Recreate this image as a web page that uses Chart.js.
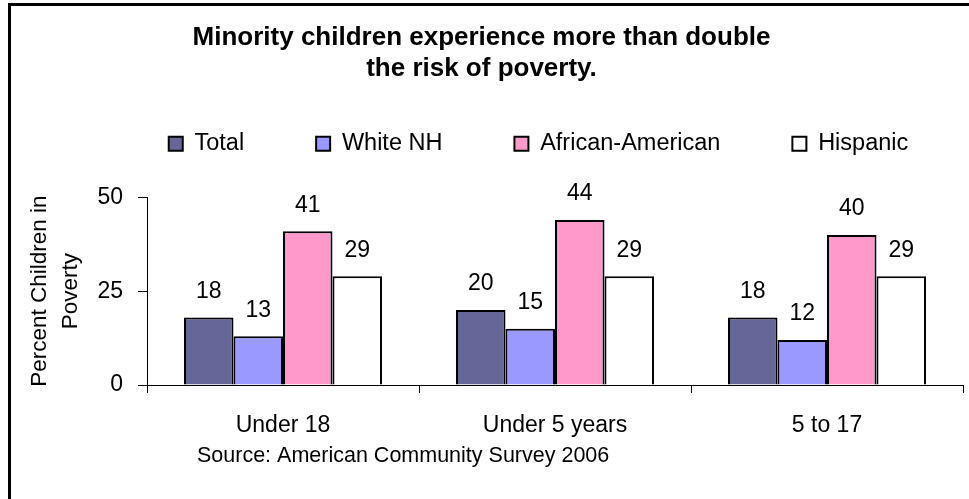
<!DOCTYPE html>
<html>
<head>
<meta charset="utf-8">
<script src="https://cdn.jsdelivr.net/npm/chart.js@4.4.1/dist/chart.umd.min.js"></script>
<style>
    html, body { margin: 0; padding: 0; background: #fff; }
</style>
</head>
<body>
<canvas id="grafico" width="969" height="499"></canvas>
<script>
// dados
const categorias = ['Under 18', 'Under 5 years', '5 to 17'];
const total = [18, 20, 18];
const whiteNH = [13, 15, 12];
const africanAmerican = [41, 44, 40];
const hispanic = [29, 29, 29];
const yTicks = [0, 25, 50];

const titulo = ['Minority children experience more than double', 'the risk of poverty.'];
const tituloY = ['Percent Children in', 'Poverty'];
const fonte = 'Source: American Community Survey 2006';

const familia = '"Liberation Sans", Arial, sans-serif';
Chart.defaults.font.family = familia;
Chart.defaults.color = '#000';

// rotulos de valor acima das barras
const rotulos = {
    id: 'rotulos',
    afterDatasetsDraw(chart) {
        const ctx = chart.ctx;
        ctx.save();
        ctx.font = '23px ' + familia;
        ctx.fillStyle = '#000';
        ctx.textAlign = 'center';
        ctx.textBaseline = 'middle';
        chart.data.datasets.forEach((ds, i) => {
            chart.getDatasetMeta(i).data.forEach((bar, j) => {
                ctx.fillText(ds.data[j], bar.x, bar.y - 26);
            });
        });
        ctx.restore();
    }
};

// moldura e fonte
const moldura = {
    id: 'moldura',
    afterDraw(chart) {
        const ctx = chart.ctx;
        ctx.save();
        ctx.strokeStyle = '#000';
        ctx.lineWidth = 3;
        ctx.beginPath();
        ctx.moveTo(9.5, 520);
        ctx.lineTo(9.5, 4.5);
        ctx.lineTo(990, 4.5);
        ctx.stroke();
        ctx.font = '21.5px ' + familia;
        ctx.fillStyle = '#000';
        ctx.textBaseline = 'alphabetic';
        ctx.fillText(fonte, 197, 462);
        ctx.restore();
    }
};

// legenda fica mais a direita e mais acima
const ajusteLegenda = {
    id: 'ajusteLegenda',
    afterLayout(chart) {
        const lg = chart.legend;
        lg.left += 57; lg.right += 57;
        lg.top -= 32; lg.bottom -= 32;
    }
};

const ctx = document.getElementById('grafico').getContext('2d');
const grafico = new Chart(ctx, {
    type: 'bar',
    data: {
        labels: categorias,
        datasets: [
            { label: 'Total', data: total, backgroundColor: '#666699' },
            { label: 'White NH', data: whiteNH, backgroundColor: '#9999FF' },
            { label: 'African-American', data: africanAmerican, backgroundColor: '#FF99CC' },
            { label: 'Hispanic', data: hispanic, backgroundColor: '#FFFFFF' }
        ]
    },
    plugins: [rotulos, moldura, ajusteLegenda],
    options: {
        responsive: false,
        animation: false,
        devicePixelRatio: 1,
        layout: { padding: { left: 0, right: 6, top: 0, bottom: 0 } },
        datasets: {
            bar: {
                borderColor: '#000',
                borderWidth: 2,
                barPercentage: 1,
                categoryPercentage: 0.728
            }
        },
        plugins: {
            title: {
                display: true,
                text: titulo,
                font: { size: 26, weight: 'bold' },
                lineHeight: 1.27,
                padding: { top: 22, bottom: 7.5 },
                color: '#000'
            },
            legend: {
                position: 'top',
                labels: {
                    boxWidth: 14,
                    boxHeight: 14,
                    padding: 72,
                    font: { size: 23.5 },
                    color: '#000'
                }
            },
            tooltip: { enabled: false }
        },
        scales: {
            x: {
                afterFit(scale) { scale.height = 114; },
                grid: {
                    offset: true,
                    drawOnChartArea: false,
                    tickLength: 8,
                    color: '#000'
                },
                border: { display: true, color: '#000', width: 1 },
                ticks: { font: { size: 23 }, padding: 19, color: '#000' }
            },
            y: {
                min: 0,
                max: 50,
                afterFit(scale) { scale.width = 147; },
                afterBuildTicks(scale) {
                    scale.ticks = yTicks.map(v => ({ value: v }));
                },
                grid: {
                    drawOnChartArea: false,
                    tickLength: 9,
                    color: '#000'
                },
                border: { display: true, color: '#000', width: 1 },
                ticks: { font: { size: 23 }, padding: 15, color: '#000' },
                title: {
                    display: true,
                    text: tituloY,
                    font: { size: 22.5, lineHeight: 1.4 },
                    padding: { top: 24, bottom: 0 },
                    color: '#000'
                }
            }
        }
    }
});
</script>
</body>
</html>
